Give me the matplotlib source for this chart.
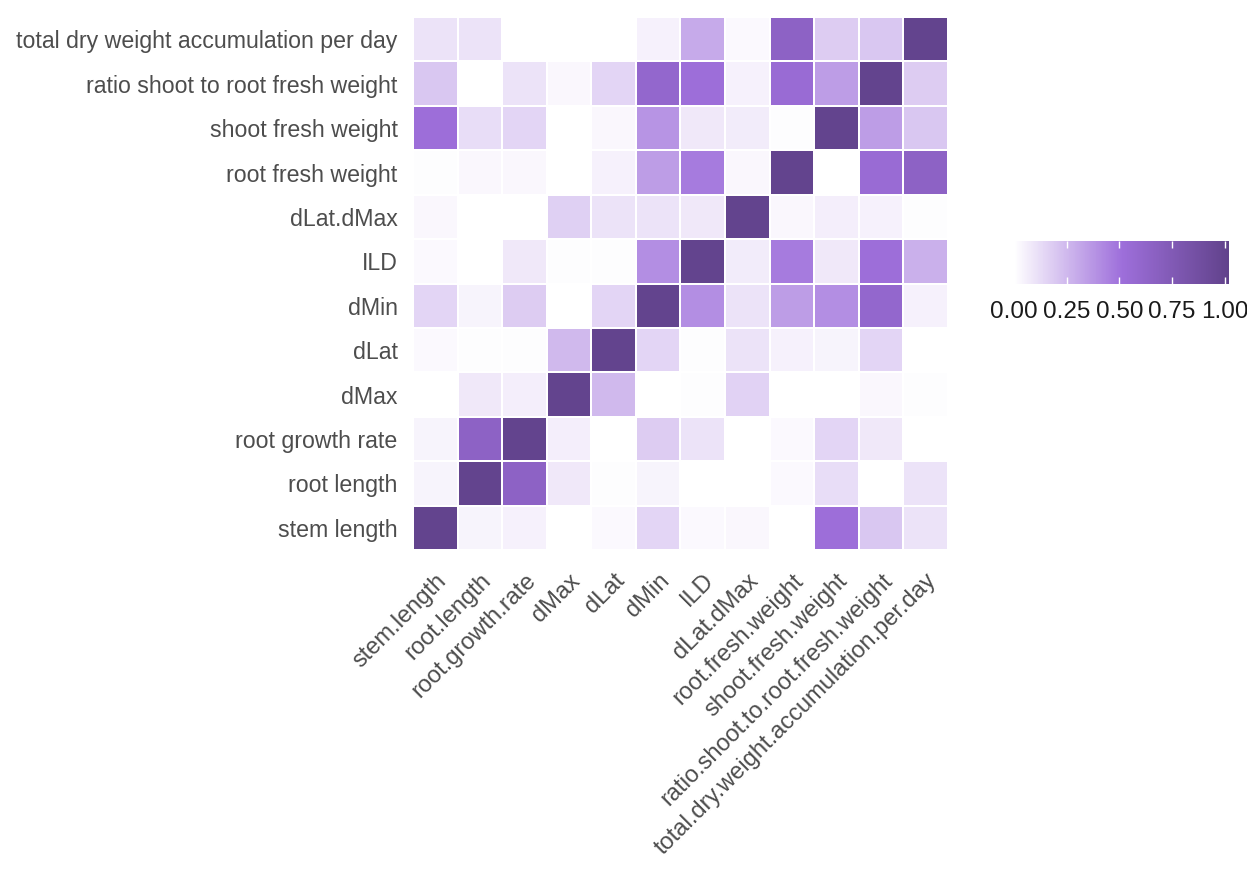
import matplotlib.pyplot as plt
import numpy as np
from matplotlib.colors import LinearSegmentedColormap

plt.rcParams["font.family"] = ["Liberation Sans", "DejaVu Sans"]

# Column labels (x) use dots, row labels (y) use spaces
x_labels = [
    "stem.length", "root.length", "root.growth.rate", "dMax", "dLat", "dMin",
    "ILD", "dLat.dMax", "root.fresh.weight", "shoot.fresh.weight",
    "ratio.shoot.to.root.fresh.weight", "total.dry.weight.accumulation.per.day",
]
y_labels = [
    "stem length", "root length", "root growth rate", "dMax", "dLat", "dMin",
    "ILD", "dLat.dMax", "root fresh weight", "shoot fresh weight",
    "ratio shoot to root fresh weight", "total dry weight accumulation per day",
]

# rows listed bottom (stem length) to top (total dry weight ...)
values = np.array([
    [1.00, 0.04, 0.05, 0.00, 0.02, 0.15, 0.02, 0.03, 0.00, 0.52, 0.20, 0.10],
    [0.04, 1.00, 0.65, 0.08, 0.01, 0.04, 0.00, 0.00, 0.02, 0.12, 0.00, 0.10],
    [0.04, 0.65, 1.00, 0.06, 0.00, 0.18, 0.10, 0.00, 0.02, 0.15, 0.08, 0.00],
    [0.00, 0.08, 0.06, 1.00, 0.25, 0.00, 0.01, 0.16, 0.00, 0.00, 0.03, 0.01],
    [0.02, 0.01, 0.01, 0.25, 1.00, 0.15, 0.01, 0.10, 0.05, 0.04, 0.15, 0.00],
    [0.15, 0.04, 0.18, 0.00, 0.15, 1.00, 0.40, 0.10, 0.35, 0.40, 0.60, 0.05],
    [0.02, 0.00, 0.08, 0.01, 0.01, 0.40, 1.00, 0.07, 0.47, 0.08, 0.52, 0.28],
    [0.03, 0.00, 0.00, 0.17, 0.10, 0.10, 0.08, 1.00, 0.03, 0.06, 0.05, 0.01],
    [0.01, 0.03, 0.03, 0.00, 0.05, 0.35, 0.47, 0.03, 1.00, 0.00, 0.55, 0.65],
    [0.52, 0.12, 0.15, 0.00, 0.03, 0.38, 0.08, 0.07, 0.01, 1.00, 0.35, 0.20],
    [0.20, 0.00, 0.10, 0.03, 0.15, 0.60, 0.52, 0.05, 0.55, 0.35, 1.00, 0.18],
    [0.10, 0.10, 0.00, 0.00, 0.00, 0.05, 0.30, 0.02, 0.65, 0.18, 0.20, 1.00],
])

cbar_ticks = [0.0, 0.25, 0.5, 0.75, 1.0]

cmap = LinearSegmentedColormap.from_list(
    "purples", ["#ffffff", "#9e6fdb", "#61428b"]
)
text_col = "#4d4d4d"

fig = plt.figure(figsize=(12.47, 8.69), dpi=100)
ax = fig.add_axes([0.3312, 0.367, 0.429, 0.6134])

mesh = ax.pcolormesh(
    values, cmap=cmap, vmin=0, vmax=1.02, edgecolors="white", linewidth=1.2
)
ax.set_xlim(0, len(x_labels))
ax.set_ylim(0, len(y_labels))
ax.set_xticks(np.arange(len(x_labels)) + 0.5)
ax.set_yticks(np.arange(len(y_labels)) + 0.5)
ax.set_xticklabels(
    x_labels, rotation=45, ha="right", va="top", rotation_mode="anchor",
    fontsize=17, color=text_col,
)
ax.set_yticklabels(y_labels, fontsize=16.7, color=text_col)
ax.tick_params(axis="y", length=0, pad=11)
ax.tick_params(axis="x", length=0, pad=14)
for s in ax.spines.values():
    s.set_visible(False)

# Colorbar on the right
cax = fig.add_axes([0.8132, 0.6732, 0.1724, 0.0495])
cbar = fig.colorbar(mesh, cax=cax, orientation="horizontal", ticks=cbar_ticks)
cbar.outline.set_visible(False)
cbar.ax.set_xticklabels([f"{t:.2f}" for t in cbar_ticks], fontsize=17.5, color="#1a1a1a")
cbar.ax.tick_params(direction="in", color="white", length=5, width=1,
                    top=True, bottom=True, pad=12)

fig.savefig("out.png", dpi=100)
